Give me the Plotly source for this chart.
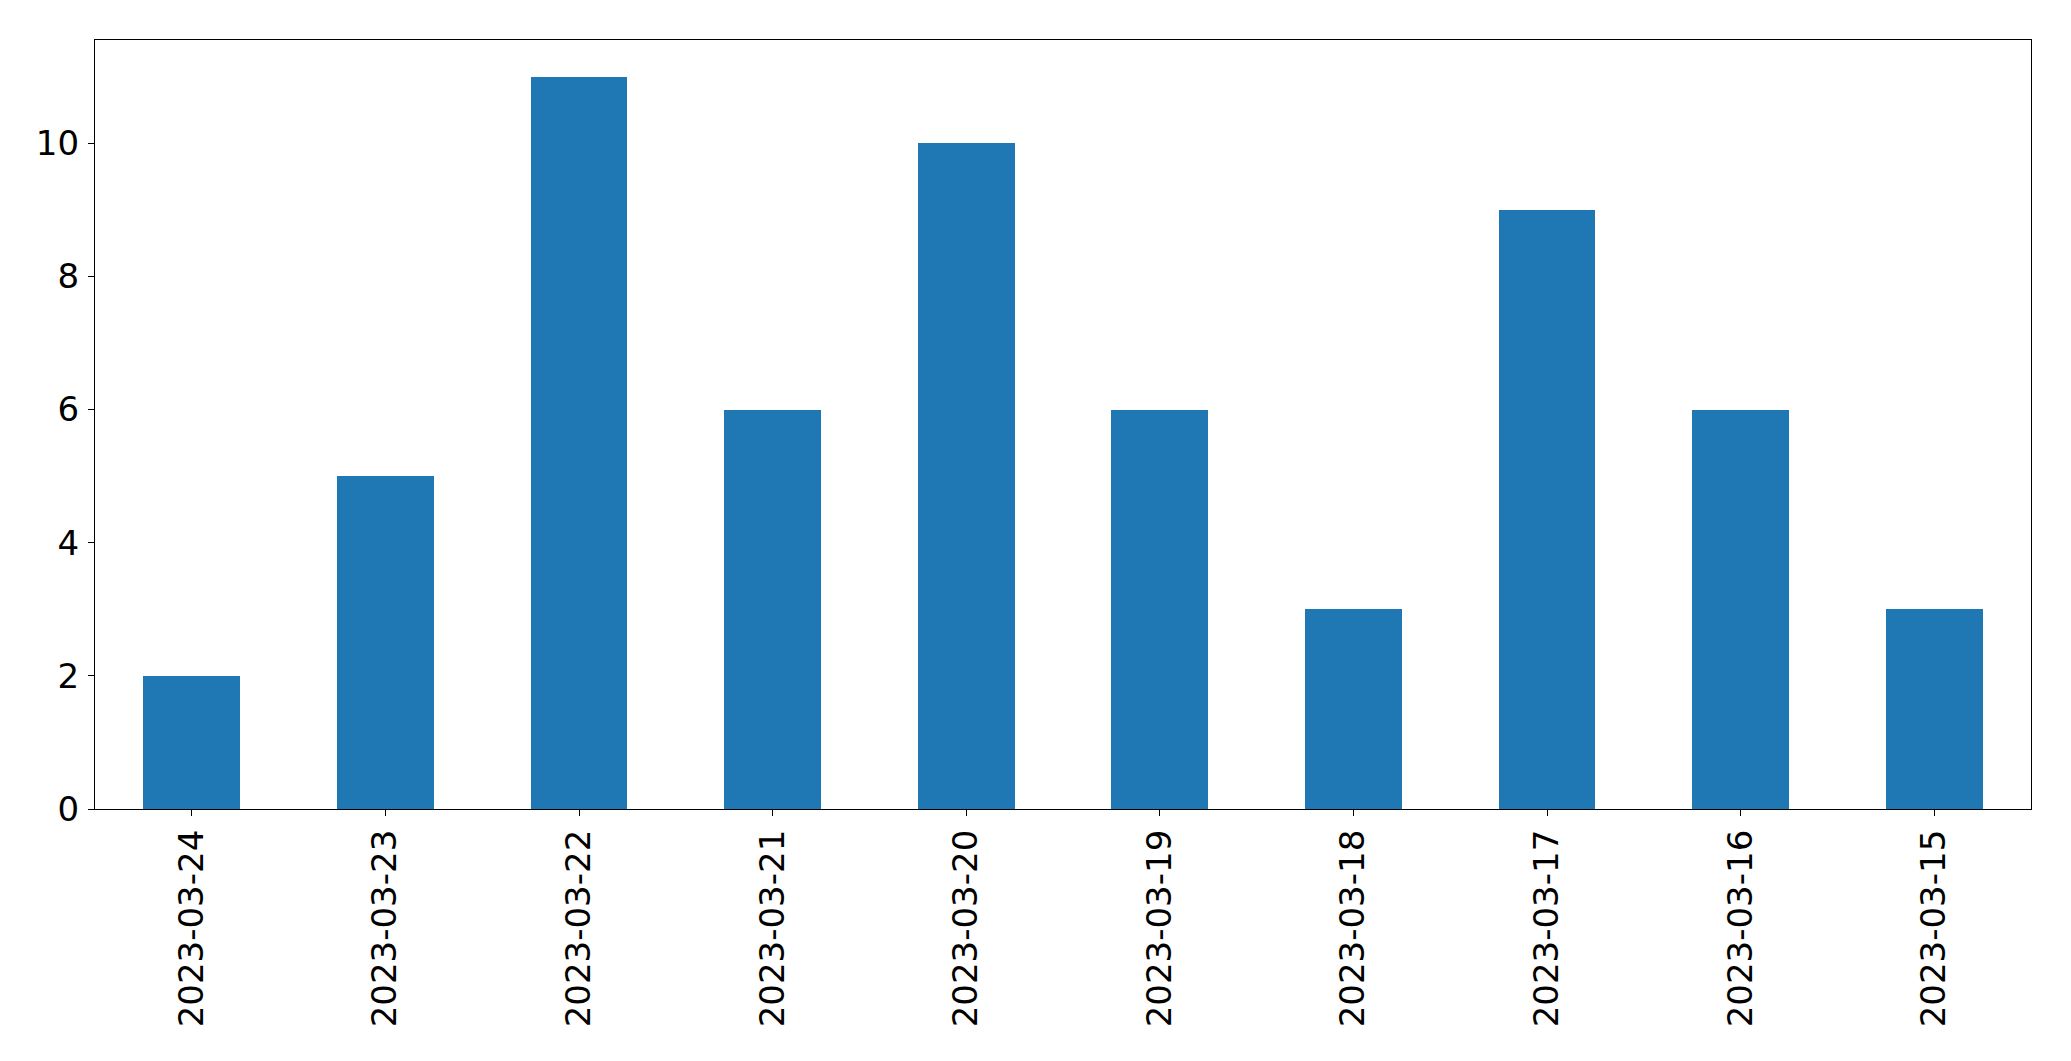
import plotly.graph_objects as go

dates = ["2023-03-24", "2023-03-23", "2023-03-22", "2023-03-21", "2023-03-20",
         "2023-03-19", "2023-03-18", "2023-03-17", "2023-03-16", "2023-03-15"]
counts = [2, 5, 11, 6, 10, 6, 3, 9, 6, 3]
y_ticks = [0, 2, 4, 6, 8, 10]

fig = go.Figure(go.Bar(x=list(range(len(dates))), y=counts, width=0.5,
                       marker=dict(color="#1f77b4", line=dict(width=0))))

axis_common = dict(showline=True, linecolor="black", linewidth=1.3, mirror=True,
                   showgrid=False, zeroline=False, ticks="outside", ticklen=6,
                   tickwidth=1.3, tickcolor="black",
                   tickfont=dict(family="DejaVu Sans", size=34, color="black"))

fig.update_layout(
    width=2071, height=1061,
    margin=dict(l=94.5, r=39.5, t=39.5, b=252, autoexpand=False),
    plot_bgcolor="white", paper_bgcolor="white",
    showlegend=False, bargap=0,
    xaxis=dict(axis_common, range=[-0.5, len(dates) - 0.5], tickmode="array",
               tickvals=list(range(len(dates))), ticktext=dates, tickangle=-90,
               ticklabelstandoff=0),
    yaxis=dict(axis_common, range=[0, max(counts) * 1.05], tickmode="array",
               tickvals=y_ticks, ticktext=[str(v) for v in y_ticks],
               ticklabelstandoff=2),
)

fig.write_html("out.html", config={"displayModeBar": False},
               post_script="document.body.style.margin='0';document.body.style.overflow='hidden';")
